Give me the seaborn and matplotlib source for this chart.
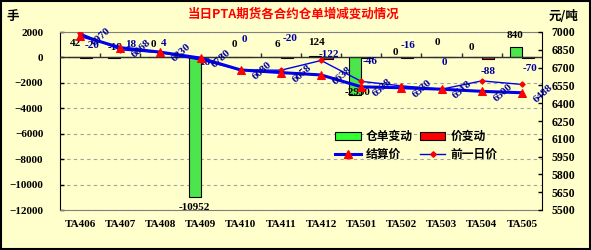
import numpy as np
import pandas as pd
import matplotlib
matplotlib.use('Agg')
import matplotlib.pyplot as plt
import seaborn as sns
from matplotlib.patches import Patch, Rectangle
from matplotlib.lines import Line2D

# ---------------- data ----------------
contracts = ['TA406', 'TA407', 'TA408', 'TA409', 'TA410', 'TA411',
             'TA412', 'TA501', 'TA502', 'TA503', 'TA504', 'TA505']
warrant_change = [42, -18, 0, -10952, 0, 6, 124, -2950, 0, 0, 0, 840]
price_change = [-20, 18, 4, 16, 0, -20, -122, -46, -16, 0, -88, -70]
settle_price = [6970, 6868, 6830, 6780, 6680, 6658, 6638, 6538, 6530, 6518, 6500, 6488]
prev_price = [6990, 6850, 6826, 6764, 6680, 6678, 6760, 6584, 6546, 6518, 6588, 6558]
series_names = ['仓单变动', '价变动']
line_names = ['结算价', '前一日价']
title = '当日PTA期货各合约仓单增减变动情况'

# label offsets in pixels (dx right, dy up)
warrant_lbl_dx = [1, 1, -1, 0, 0, 2, 1, 2, 0, 2, -4, -1]
warrant_lbl_dy = [13, 10.5, 12.5, -11, 12.5, 12.5, 13, 2, 4.5, 14.5, 9.5, 11]
price_lbl_dx = [6, 4, -3, -2, -2, 3, 2, 3, 0.5, -3, 0, 2]
price_lbl_dy = [12.5, 12.5, 13.5, -5.5, 17.5, 19.5, 4.5, -3.5, 12.5, -5.5, -12.5, -10.5]

BG = '#FFFFCC'
GREEN = '#33FF33'
RED = '#FF0000'
BLUE = '#0000EE'
NAVY = '#000099'
PX = 0.72  # points per pixel at dpi 100

plt.rcParams['font.family'] = ['Liberation Serif', 'Noto Sans CJK SC']
plt.rcParams['font.weight'] = 'bold'
plt.rcParams['axes.unicode_minus'] = True

fig = plt.figure(figsize=(5.91, 2.5), dpi=100, facecolor=BG)
ax = fig.add_axes([60 / 591, 1 - 210 / 250, 482 / 591, 178 / 250])
ax.set_facecolor(BG)

df = pd.DataFrame({
    '合约': contracts * 2,
    '数值': warrant_change + price_change,
    '系列': [series_names[0]] * len(contracts) + [series_names[1]] * len(contracts),
})
sns.barplot(data=df, x='合约', y='数值', hue='系列', hue_order=series_names,
            order=contracts, palette=[GREEN, RED], width=0.6,
            edgecolor='black', linewidth=0.8, ax=ax, legend=False, zorder=2)

ax.set_ylim(-12000, 2000)
ax.set_yticks(np.arange(-12000, 2001, 2000))
ax.set_xlim(-0.5, len(contracts) - 0.5)
ax.set_xlabel('')
ax.set_ylabel('')
ax.set_axisbelow(True)
ax.yaxis.grid(True, linestyle=(0, (3, 3)), color='#A0A0A0', lw=0.8)
ax.xaxis.grid(False)

# category axis at zero with boundary ticks
ax.axhline(0, color='#303030', lw=1, zorder=3)
ax.vlines(np.arange(0.5, len(contracts) - 0.5, 1), 0, 320, color='#303030', lw=1, zorder=3)

ax.spines['left'].set_color('black')
for s in ['top', 'bottom']:
    ax.spines[s].set_color('#808080')
ax.spines['right'].set_visible(False)

ax.tick_params(axis='y', direction='in', length=3, width=1, pad=12, labelsize=8)
ax.tick_params(axis='x', length=0, pad=7, labelsize=8)

# bar labels
for i, v in enumerate(warrant_change):
    ax.annotate(str(v), xy=(i - 0.15, v),
                xytext=(warrant_lbl_dx[i] * PX, warrant_lbl_dy[i] * PX),
                textcoords='offset points', ha='center', va='center',
                fontsize=8, color='black', weight='bold', zorder=4)
for i, v in enumerate(price_change):
    ax.annotate(str(v), xy=(i + 0.15, v),
                xytext=(price_lbl_dx[i] * PX, price_lbl_dy[i] * PX),
                textcoords='offset points', ha='center', va='center',
                fontsize=8, color=NAVY, weight='bold', zorder=4)

# price lines
ax2 = ax.twinx()
xs = np.arange(len(contracts))
sns.lineplot(x=xs, y=prev_price, ax=ax2, color=BLUE, lw=1, marker='D', markersize=2.8,
             markerfacecolor=RED, markeredgecolor=RED)
sns.lineplot(x=xs, y=settle_price, ax=ax2, color=BLUE, lw=2.2, marker='^', markersize=6,
             markerfacecolor=RED, markeredgecolor=RED)
ax2.set_ylim(5500, 7000)
ax2.set_yticks(np.arange(5500, 7001, 150))
ax2.set_xlim(-0.5, len(contracts) - 0.5)
ax.set_xlim(-0.5, len(contracts) - 0.5)
ax2.set_ylabel('')
for s in ['left', 'top', 'bottom']:
    ax2.spines[s].set_visible(False)
ax2.spines['right'].set_color('black')
ax2.tick_params(axis='y', direction='in', length=3, width=1, pad=7, labelsize=8.5)

for i, v in enumerate(settle_price):
    ax2.annotate(str(v), xy=(i, v), xytext=(21 * PX, -1 * PX), textcoords='offset points',
                 rotation=42, rotation_mode='anchor', ha='center', va='center',
                 fontsize=8, color=NAVY, weight='bold')

# legend
h1 = Patch(facecolor=GREEN, edgecolor='black', lw=0.8, label=series_names[0])
h2 = Patch(facecolor=RED, edgecolor='black', lw=0.8, label=series_names[1])
h3 = Line2D([], [], color=BLUE, lw=2.2, marker='^', ms=5.5, mfc=RED, mec=RED, label=line_names[0])
h4 = Line2D([], [], color=BLUE, lw=1, marker='D', ms=2.8, mfc=RED, mec=RED, label=line_names[1])
ax2.legend(handles=[h1, h3, h2, h4], ncol=2, loc='upper left', bbox_to_anchor=(0.57, 0.45),
           frameon=False, prop={'family': 'Noto Sans CJK SC', 'weight': 'bold', 'size': 8.5},
           handlelength=2.2, handletextpad=0.4, columnspacing=0.6, labelspacing=0.45,
           borderaxespad=0, borderpad=0)

# titles / unit labels
fig.text(294 / 591, 1 - 14 / 250, title, color='red', fontsize=9, weight='bold',
         ha='center', va='center', family='Noto Sans CJK SC')
fig.text(13 / 591, 1 - 16 / 250, '手', fontsize=9, weight='bold', ha='center', va='center',
         family='Noto Sans CJK SC')
fig.text(564 / 591, 1 - 16 / 250, '元/吨', fontsize=9, weight='bold', ha='center', va='center',
         family='Noto Sans CJK SC')

fig.add_artist(Rectangle((0.0015, 0.003), 0.997, 0.994, transform=fig.transFigure,
                         fill=False, edgecolor='black', lw=1.5))

fig.savefig('out.png', dpi=100, facecolor=fig.get_facecolor())
